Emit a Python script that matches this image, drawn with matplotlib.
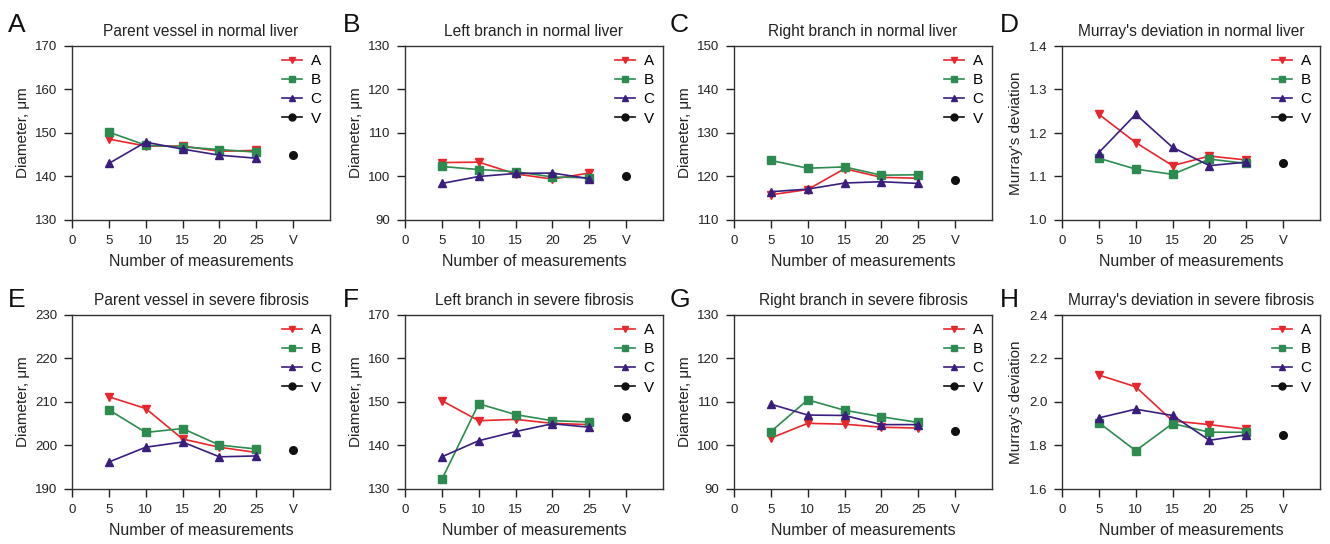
import matplotlib
matplotlib.use("Agg")
import matplotlib.pyplot as plt
from matplotlib.lines import Line2D

plt.rcParams['font.family'] = ['Liberation Sans', 'DejaVu Sans']

x_pos = [5, 10, 15, 20, 25]
v_pos = 30
xtick_pos = [0, 5, 10, 15, 20, 25, 30]
xtick_labels = ['0', '5', '10', '15', '20', '25', 'V']

panel_letters = ['A', 'B', 'C', 'D', 'E', 'F', 'G', 'H']
titles = ["Parent vessel in normal liver", "Left branch in normal liver",
          "Right branch in normal liver", "Murray's deviation in normal liver",
          "Parent vessel in severe fibrosis", "Left branch in severe fibrosis",
          "Right branch in severe fibrosis", "Murray's deviation in severe fibrosis"]
ylabels = ["Diameter, μm", "Diameter, μm", "Diameter, μm", "Murray's deviation"] * 2
ylims = [(130, 170), (90, 130), (110, 150), (1.0, 1.4),
         (190, 230), (130, 170), (90, 130), (1.6, 2.4)]
yticks = [[130, 140, 150, 160, 170], [90, 100, 110, 120, 130],
          [110, 120, 130, 140, 150], [1.0, 1.1, 1.2, 1.3, 1.4],
          [190, 200, 210, 220, 230], [130, 140, 150, 160, 170],
          [90, 100, 110, 120, 130], [1.6, 1.8, 2.0, 2.2, 2.4]]

series_A = [
    [148.6, 147.0, 147.0, 145.8, 146.0],
    [103.2, 103.3, 100.6, 99.4, 100.8],
    [115.8, 117.0, 121.8, 119.8, 119.6],
    [1.243, 1.178, 1.125, 1.147, 1.138],
    [211.2, 208.5, 201.5, 199.6, 198.4],
    [150.3, 145.7, 146.0, 145.1, 144.8],
    [101.7, 105.1, 104.9, 104.2, 104.0],
    [2.124, 2.070, 1.913, 1.896, 1.875],
]
series_B = [
    [150.2, 147.2, 146.8, 146.2, 145.6],
    [102.3, 101.6, 101.1, 99.9, 99.7],
    [123.7, 121.9, 122.2, 120.3, 120.4],
    [1.142, 1.117, 1.105, 1.140, 1.130],
    [208.2, 203.0, 203.9, 200.1, 199.2],
    [132.2, 149.6, 147.1, 145.7, 145.4],
    [103.2, 110.5, 108.1, 106.6, 105.3],
    [1.905, 1.776, 1.901, 1.861, 1.861],
]
series_C = [
    [143.0, 147.9, 146.3, 144.9, 144.2],
    [98.4, 100.0, 100.7, 100.8, 99.5],
    [116.5, 117.1, 118.5, 118.8, 118.4],
    [1.155, 1.243, 1.167, 1.125, 1.133],
    [196.2, 199.6, 200.8, 197.4, 197.6],
    [137.4, 141.1, 143.2, 145.0, 144.2],
    [109.5, 107.0, 106.9, 104.8, 104.8],
    [1.927, 1.967, 1.938, 1.824, 1.849],
]
series_V = [145.0, 100.0, 119.3, 1.130, 199.0, 146.5, 103.4, 1.847]

col_A = '#e8262b'
col_B = '#2e8b50'
col_C = '#3a1e7e'
col_V = '#111111'

W, H = 1330, 544
fig = plt.figure(figsize=(W / 100, H / 100), dpi=100)

lefts = [72, 405, 734, 1062]
letter_x = [8, 343, 670, 1000]
tops = [46, 315]
letter_base = [32, 307]
aw, ah = 258, 174
edge = '#333333'
lw = 1.2
ms = 5.5

for i in range(8):
    r, c = divmod(i, 4)
    l = lefts[c]
    t = tops[r]
    ax = fig.add_axes([l / W, 1 - (t + ah) / H, aw / W, ah / H])
    ax.plot(x_pos, series_A[i], color=col_A, marker='v', ms=ms, lw=lw, zorder=3)
    ax.plot(x_pos, series_B[i], color=col_B, marker='s', ms=ms, lw=lw, zorder=3)
    ax.plot(x_pos, series_C[i], color=col_C, marker='^', ms=ms, lw=lw, zorder=3)
    ax.plot([v_pos], [series_V[i]], color=col_V, marker='o', ms=ms, ls='None', zorder=3)
    handles = [
        Line2D([], [], color=col_A, marker='v', ms=5, lw=lw),
        Line2D([], [], color=col_B, marker='s', ms=5, lw=lw),
        Line2D([], [], color=col_C, marker='^', ms=5, lw=lw),
        Line2D([], [], color=col_V, marker='o', ms=5, lw=lw),
    ]
    ax.legend(handles, ['A', 'B', 'C', 'V'], loc='upper right', frameon=False,
              fontsize=11, handlelength=1.3, handletextpad=0.55, labelspacing=0.33,
              borderaxespad=0.25, borderpad=0.3, bbox_to_anchor=(1.0, 1.0))
    ax.set_xlim(0, 35)
    ax.set_ylim(*ylims[i])
    ax.set_xticks(xtick_pos)
    ax.set_xticklabels(xtick_labels)
    ax.set_yticks(yticks[i])
    if i in (3, 7):
        ax.set_yticklabels([f'{v:.1f}' for v in yticks[i]])
    ax.tick_params(direction='out', length=5.5, width=1, labelsize=9.5, colors='#222222', pad=5)
    for s in ax.spines.values():
        s.set_color(edge)
        s.set_linewidth(1.0)
    ax.set_xlabel('Number of measurements', fontsize=11.5, color='#222222', labelpad=5)
    ax.set_ylabel(ylabels[i], fontsize=11, color='#222222', labelpad=4)
    ax.set_title(titles[i], fontsize=11.2, color='#222222', pad=7)
    fig.text(letter_x[c] / W, 1 - letter_base[r] / H, panel_letters[i], fontsize=19,
             va='baseline', ha='left', color='#111111')

fig.savefig('out.png', dpi=100)
